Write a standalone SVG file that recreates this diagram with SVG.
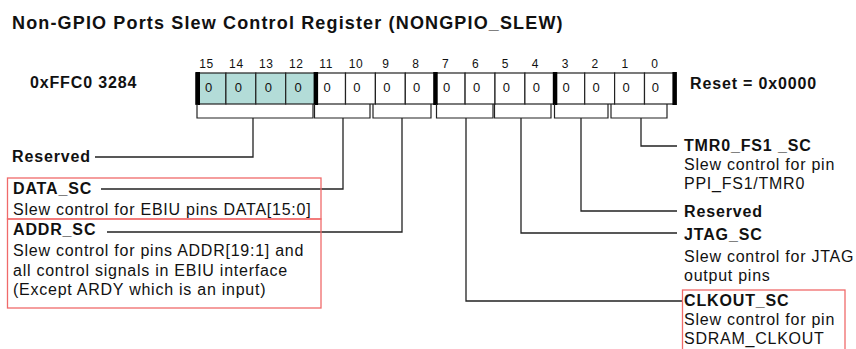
<svg xmlns="http://www.w3.org/2000/svg" width="856" height="349" viewBox="0 0 856 349">
  <style>
    .title { font-family: "Liberation Sans", Arial, sans-serif; font-weight: bold; font-size: 18px; letter-spacing: 1.15px; fill: #111; }
    .bold { font-family: "Liberation Sans", Arial, sans-serif; font-weight: bold; font-size: 16px; letter-spacing: 0.85px; fill: #111; }
    .desc { font-family: "Liberation Sans", Arial, sans-serif; font-size: 16px; letter-spacing: 0.75px; fill: #111; }
    .bitnum { font-family: "Liberation Sans", Arial, sans-serif; font-size: 12px; letter-spacing: 0.6px; fill: #111; text-anchor: middle; }
    .val { font-family: "Liberation Sans", Arial, sans-serif; font-size: 13px; fill: #111; text-anchor: middle; }
    .cell { fill: #ffffff; stroke: #222; stroke-width: 1.2; }
    .cell.shaded { fill: #b3dcd8; }
    .bar { fill: #000; }
    .bracket { fill: none; stroke: #222; stroke-width: 1.2; }
    .leader { fill: none; stroke: #222; stroke-width: 1.3; }
    .hilite { fill: none; stroke: #f06a6a; stroke-width: 1.3; }
  </style>

  <rect width="856" height="349" fill="#ffffff"/>

  <text class="title" x="12" y="29">Non-GPIO Ports Slew Control Register (NONGPIO_SLEW)</text>
  <text class="bold" x="30" y="88">0xFFC0 3284</text>
  <text class="bold" x="690" y="88.5">Reset = 0x0000</text>

  <!-- register cells, bit 15 on the left -->
  <g id="register">
    <g id="bit-numbers">
      <text class="bitnum" x="206.5" y="67.5">15</text>
      <text class="bitnum" x="236.4" y="67.5">14</text>
      <text class="bitnum" x="266.3" y="67.5">13</text>
      <text class="bitnum" x="296.2" y="67.5">12</text>
      <text class="bitnum" x="326.1" y="67.5">11</text>
      <text class="bitnum" x="356" y="67.5">10</text>
      <text class="bitnum" x="385.9" y="67.5">9</text>
      <text class="bitnum" x="415.8" y="67.5">8</text>
      <text class="bitnum" x="445.7" y="67.5">7</text>
      <text class="bitnum" x="475.6" y="67.5">6</text>
      <text class="bitnum" x="505.5" y="67.5">5</text>
      <text class="bitnum" x="535.4" y="67.5">4</text>
      <text class="bitnum" x="565.3" y="67.5">3</text>
      <text class="bitnum" x="595.2" y="67.5">2</text>
      <text class="bitnum" x="625.1" y="67.5">1</text>
      <text class="bitnum" x="655" y="67.5">0</text>
    </g>
    <g id="cells">
      <rect class="cell shaded" x="196" y="73" width="29.9" height="31"/>
      <rect class="cell shaded" x="225.9" y="73" width="29.9" height="31"/>
      <rect class="cell shaded" x="255.8" y="73" width="29.9" height="31"/>
      <rect class="cell shaded" x="285.7" y="73" width="29.9" height="31"/>
      <rect class="cell" x="315.6" y="73" width="29.9" height="31"/>
      <rect class="cell" x="345.5" y="73" width="29.9" height="31"/>
      <rect class="cell" x="375.4" y="73" width="29.9" height="31"/>
      <rect class="cell" x="405.3" y="73" width="29.9" height="31"/>
      <rect class="cell" x="435.2" y="73" width="29.9" height="31"/>
      <rect class="cell" x="465.1" y="73" width="29.9" height="31"/>
      <rect class="cell" x="495" y="73" width="29.9" height="31"/>
      <rect class="cell" x="524.9" y="73" width="29.9" height="31"/>
      <rect class="cell" x="554.8" y="73" width="29.9" height="31"/>
      <rect class="cell" x="584.7" y="73" width="29.9" height="31"/>
      <rect class="cell" x="614.6" y="73" width="29.9" height="31"/>
      <rect class="cell" x="644.5" y="73" width="29.9" height="31"/>
    </g>
    <g id="values">
      <text class="val" x="208.5" y="91.5">0</text>
      <text class="val" x="238.4" y="91.5">0</text>
      <text class="val" x="268.3" y="91.5">0</text>
      <text class="val" x="298.2" y="91.5">0</text>
      <text class="val" x="327" y="91.5">0</text>
      <text class="val" x="356.9" y="91.5">0</text>
      <text class="val" x="386.8" y="91.5">0</text>
      <text class="val" x="416.7" y="91.5">0</text>
      <text class="val" x="446.6" y="91.5">0</text>
      <text class="val" x="476.5" y="91.5">0</text>
      <text class="val" x="506.4" y="91.5">0</text>
      <text class="val" x="536.3" y="91.5">0</text>
      <text class="val" x="566.2" y="91.5">0</text>
      <text class="val" x="596.1" y="91.5">0</text>
      <text class="val" x="626" y="91.5">0</text>
      <text class="val" x="655.4" y="91.5">0</text>
    </g>
    <!-- nibble separators -->
    <g id="nibble-bars">
      <rect class="bar" x="195.5" y="72" width="4.5" height="33"/>
      <rect class="bar" x="313.6" y="72" width="4.5" height="33"/>
      <rect class="bar" x="433.2" y="72" width="4.5" height="33"/>
      <rect class="bar" x="552.8" y="72" width="4.5" height="33"/>
      <rect class="bar" x="672.4" y="72" width="4.5" height="33"/>
    </g>
  </g>

  <!-- field brackets under the register -->
  <g id="brackets">
    <path class="bracket" d="M197,104 V118 H313 V104"/>
    <path class="bracket" d="M314.5,104 V118 H370 V104"/>
    <path class="bracket" d="M373,104 V118 H431 V104"/>
    <path class="bracket" d="M436.5,104 V118 H493 V104"/>
    <path class="bracket" d="M494.5,104 V118 H551 V104"/>
    <path class="bracket" d="M554.5,104 V118 H608 V104"/>
    <path class="bracket" d="M611,104 V118 H667 V104"/>
  </g>

  <!-- leaders from each field to its description -->
  <g id="connectors">
    <path class="leader" d="M253,118 V157 H95"/>
    <path class="leader" d="M343,118 V189 H101"/>
    <path class="leader" d="M402,118 V232 H107"/>
    <path class="leader" d="M466,118 V301 H682"/>
    <path class="leader" d="M521,118 V233 H677"/>
    <path class="leader" d="M581,118 V211 H677"/>
    <path class="leader" d="M641,118 V146 H677"/>
  </g>

  <g id="field-reserved-15-12">
    <text class="bold" x="12" y="162">Reserved</text>
  </g>
  <g id="field-data-sc">
    <rect class="hilite" x="7.5" y="178" width="313.5" height="41"/>
    <text class="bold" x="13" y="194">DATA_SC</text>
    <text class="desc" x="13" y="215">Slew control for EBIU pins DATA[15:0]</text>
  </g>
  <g id="field-addr-sc">
    <rect class="hilite" x="7.5" y="219" width="313.5" height="89"/>
    <text class="bold" x="13" y="234.5">ADDR_SC</text>
    <text class="desc" x="13" y="255.5">Slew control for pins ADDR[19:1] and</text>
    <text class="desc" x="13" y="275.5">all control signals in EBIU interface</text>
    <text class="desc" x="13" y="295">(Except ARDY which is an input)</text>
  </g>
  <g id="field-tmr0-fs1-sc">
    <text class="bold" x="684" y="151">TMR0_FS1 _SC</text>
    <text class="desc" x="684" y="169.5">Slew control for pin</text>
    <text class="desc" x="684" y="188.5">PPI_FS1/TMR0</text>
  </g>
  <g id="field-reserved-3-2">
    <text class="bold" x="684" y="217">Reserved</text>
  </g>
  <g id="field-jtag-sc">
    <text class="bold" x="684" y="239.5">JTAG_SC</text>
    <text class="desc" x="684" y="262">Slew control for JTAG</text>
    <text class="desc" x="684" y="281">output pins</text>
  </g>
  <g id="field-clkout-sc">
    <rect class="hilite" x="682.5" y="290" width="162.5" height="70"/>
    <text class="bold" x="684" y="306">CLKOUT_SC</text>
    <text class="desc" x="684" y="325">Slew control for pin</text>
    <text class="desc" x="684" y="344">SDRAM_CLKOUT</text>
  </g>
</svg>
